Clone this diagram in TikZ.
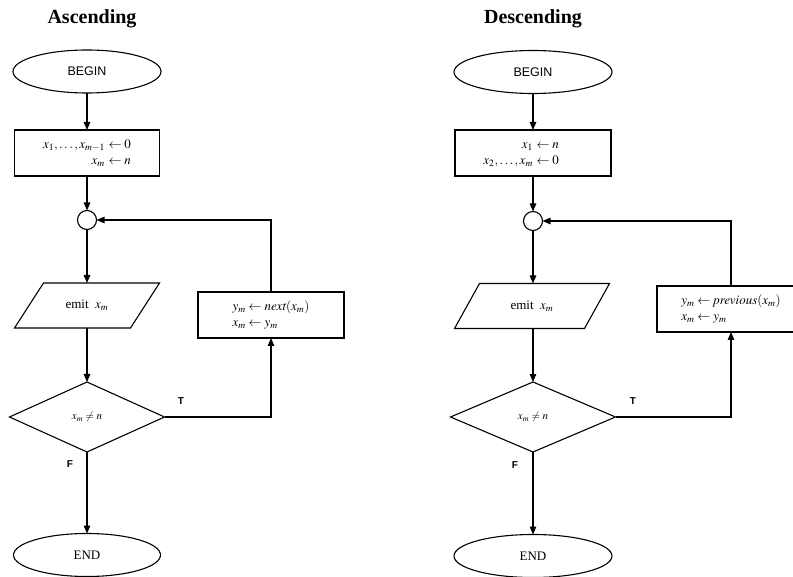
\documentclass[tikz,border=0pt]{standalone}
\usepackage{mathptmx}
\usepackage{fontspec}
\setmainfont{Liberation Serif}
\setsansfont{Liberation Sans}
\usetikzlibrary{arrows.meta,shapes.geometric}
\begin{document}
\begin{tikzpicture}[x=1pt,y=-1pt,
  every node/.style={inner sep=0pt,outer sep=0pt},
  line/.style={line width=1.1pt},
  arr/.style={line,-{Triangle[length=8pt,width=6.5pt]}},
  titletext/.style={font=\fontsize{20}{24}\selectfont\bfseries},
  term/.style={ellipse,draw,line width=1.1pt,minimum width=#1,minimum height=43pt},
  procbox/.style={rectangle,draw,line width=1.1pt,minimum height=46pt,font=\fontsize{13}{16}\selectfont},
  joinpt/.style={circle,draw,line width=1.1pt,minimum size=19pt},
  iobox/.style={rectangle,minimum height=45pt,font=\fontsize{13}{16}\selectfont},
  decision/.style={diamond,draw,line width=1.1pt,minimum height=70pt,font=\fontsize{11}{13}\selectfont},
  tf/.style={font=\fontsize{10}{12}\sffamily\bfseries}
]
\clip (0,0) rectangle (793,577);

% ---------------- Ascending ----------------
\node[titletext] (titleL) at (92,19) {Ascending};
\node[term=148pt,font=\fontsize{12.5}{14}\sffamily] (beginL) at (87,71.5) {BEGIN};
\node[procbox,minimum width=145pt] (initL) at (87,153)
  {\begin{tabular}{@{}r@{\;}l@{}}$x_1,\ldots,x_{m-1}$ & $\leftarrow 0$\\ $x_m$ & $\leftarrow n$\end{tabular}};
\node[joinpt] (joinL) at (87,220) {};
\node[iobox,minimum width=116pt] (emitL) at (87,305.5) {emit\ \ $x_m$};
\draw[line] ([xshift=14.5pt]emitL.north west) -- ([xshift=14.5pt]emitL.north east)
  -- ([xshift=-14.5pt]emitL.south east) -- ([xshift=-14.5pt]emitL.south west) -- cycle;
\node[decision,minimum width=155pt] (testL) at (87,417) {$x_m \neq n$};
\node[term=147pt,font=\fontsize{13}{15}\selectfont] (endL) at (87,555) {END};
\node[procbox,minimum width=146pt] (updL) at (271,315)
  {\begin{tabular}{@{}l@{}}$y_m \leftarrow \mathit{next}(x_m)$\\ $x_m \leftarrow y_m$\end{tabular}};
\node[tf] (tL) at (181,401) {T};
\node[tf] (fL) at (70,464) {F};

\draw[arr] (beginL) -- (initL);
\draw[arr] (initL) -- (joinL);
\draw[arr] (joinL) -- (emitL);
\draw[arr] (emitL) -- (testL);
\draw[arr] (testL) -- (endL);
\draw[arr] (testL.east) -| (updL.south);
\draw[arr] (updL.north) |- (joinL.east);

% ---------------- Descending ----------------
\node[titletext] (titleR) at (533,19) {Descending};
\node[term=158pt,font=\fontsize{12.5}{14}\sffamily] (beginR) at (533,72) {BEGIN};
\node[procbox,minimum width=156pt] (initR) at (533,153)
  {\begin{tabular}{@{}r@{\;}l@{}}$x_1$ & \makebox[46pt][l]{$\leftarrow n$}\\ $x_2,\ldots,x_m$ & \makebox[46pt][l]{$\leftarrow 0$}\end{tabular}};
\node[joinpt] (joinR) at (533,221) {};
\node[iobox,minimum width=130pt] (emitR) at (532,306) {emit\ \ $x_m$};
\draw[line] ([xshift=12.5pt]emitR.north west) -- ([xshift=12.5pt]emitR.north east)
  -- ([xshift=-12.5pt]emitR.south east) -- ([xshift=-12.5pt]emitR.south west) -- cycle;
\node[decision,minimum width=165pt] (testR) at (533,417) {$x_m \neq n$};
\node[term=158pt,font=\fontsize{13}{15}\selectfont] (endR) at (533,556) {END};
\node[procbox,minimum width=148pt] (updR) at (731,309)
  {\begin{tabular}{@{}l@{}}$y_m \leftarrow \mathit{previous}(x_m)$\\ $x_m \leftarrow y_m$\end{tabular}};
\node[tf] (tR) at (633,401) {T};
\node[tf] (fR) at (515,465) {F};

\draw[arr] (beginR) -- (initR);
\draw[arr] (initR) -- (joinR);
\draw[arr] (joinR) -- (emitR.north -| joinR);
\draw[arr] (emitR.south -| testR) -- (testR);
\draw[arr] (testR) -- (endR);
\draw[arr] (testR.east) -| (updR.south);
\draw[arr] (updR.north) |- (joinR.east);
\end{tikzpicture}
\end{document}
